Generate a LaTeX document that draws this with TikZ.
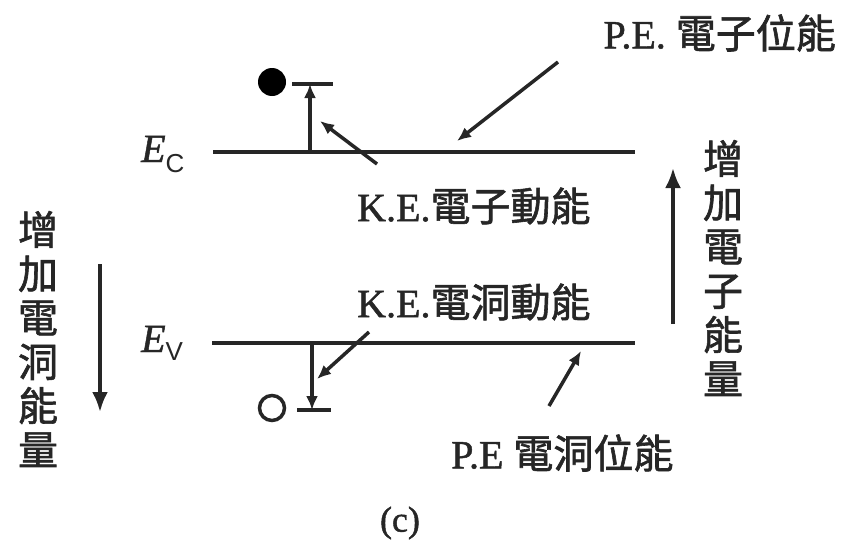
\documentclass[tikz,border=0pt]{standalone}
\usepackage{fontspec}
\setmainfont{Liberation Serif}[FakeBold=1.2]
\newfontfamily\cjk{Noto Sans CJK TC}[FakeBold=1.5]
\newfontfamily\subfont{Liberation Sans}
\usetikzlibrary{arrows.meta}
\begin{document}
\begin{tikzpicture}[x=1pt,y=-1pt,
  ink/.style={black!85},
  level/.style={ink, line width=4.5pt},
  conn/.style={ink, line width=3.5pt, -{Latex[length=20pt,width=16pt]}},
  ptr/.style={ink, line width=3.5pt, -{Latex[length=14pt,width=12pt]}},
  thin/.style={ink, line width=3.5pt},
  lbl/.style={inner sep=0pt, font=\fontsize{40}{44}\selectfont, text=black!85},
  vlbl/.style={inner sep=0pt, align=center, font=\fontsize{40}{44}\selectfont\cjk, text=black!85}]
\useasboundingbox (0,0) rectangle (845,546);

% energy levels
\coordinate (ecl) at (213,152); \coordinate (ecr) at (635,152);
\coordinate (evl) at (212,343); \coordinate (evr) at (635,343);
\draw[level] (ecl) -- (ecr);
\draw[level] (evl) -- (evr);

% level labels
\node[lbl, anchor=base west] (ec) at (141,162) {\textit{E}\raisebox{-10pt}{\subfont\fontsize{26}{28}\selectfont C}};
\node[lbl, anchor=base west] (ev) at (141,352) {\textit{E}\raisebox{-8pt}{\subfont\fontsize{26}{28}\selectfont V}};

% electron and hole
\node[circle, fill=black, minimum size=28pt, inner sep=0pt] (el) at (272,82) {};
\node[circle, draw=black!85, line width=3.5pt, minimum size=25pt, inner sep=0pt] (ho) at (272,408) {};

% electron kinetic energy marker
\coordinate (kb) at (310,152); \coordinate (kt) at (310,84);
\coordinate (kbl) at (292,84); \coordinate (kbr) at (333,84);
\draw[ptr] (kb) -- (kt);
\draw[thin] (kbl) -- (kbr);

% hole kinetic energy marker
\coordinate (hb) at (312,343); \coordinate (ht) at (312,410);
\coordinate (hbl) at (297,410); \coordinate (hbr) at (331,410);
\draw[ptr] (hb) -- (ht);
\draw[thin] (hbl) -- (hbr);

% labels
\node[lbl, anchor=east] (pee) at (836,33) {P.E. {\cjk 電子位能}};
\node[lbl, anchor=west] (kee) at (357,206) {K.E.{\cjk 電子動能}};
\node[lbl, anchor=west] (keh) at (357,302) {K.E.{\cjk 電洞動能}};
\node[lbl, anchor=west] (peh) at (451,453) {P.E {\cjk 電洞位能}};
\node[lbl, font=\fontsize{36}{40}\selectfont] (cap) at (400,523) {(c)};

% pointer lines
\coordinate (pe1s) at (558,62); \coordinate (pe1e) at (457,141);
\draw[ptr] (pe1s) -- (pe1e);
\coordinate (ke1s) at (377,164); \coordinate (ke1e) at (320,121);
\draw[ptr] (ke1s) -- (ke1e);
\coordinate (ke2s) at (369,332); \coordinate (ke2e) at (317,379);
\draw[ptr] (ke2s) -- (ke2e);
\coordinate (pe2s) at (549,406); \coordinate (pe2e) at (581,351);
\draw[ptr] (pe2s) -- (pe2e);

% side arrows and labels
\coordinate (la1) at (100,264); \coordinate (la2) at (100,412);
\draw[conn] (la1) -- (la2);
\coordinate (ra1) at (673,324); \coordinate (ra2) at (673,168);
\draw[conn] (ra1) -- (ra2);
\node[vlbl] (lt) at (38,339) {增\\加\\電\\洞\\能\\量};
\node[vlbl] (rt) at (723,268) {增\\加\\電\\子\\能\\量};
\end{tikzpicture}
\end{document}
